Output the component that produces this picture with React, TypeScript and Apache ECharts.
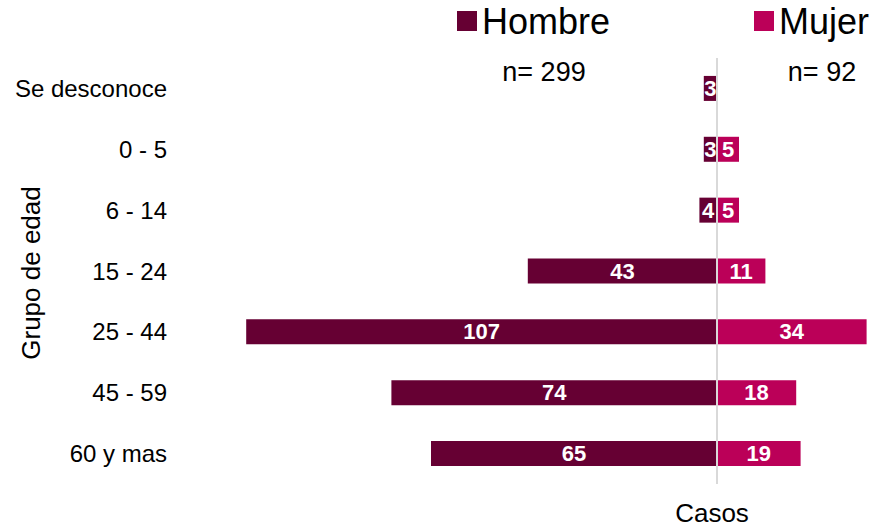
import React, { useEffect, useRef } from "react";
import * as echarts from "echarts";

const categories = ["Se desconoce", "0 - 5", "6 - 14", "15 - 24", "25 - 44", "45 - 59", "60 y mas"];
const hombre = [3, 3, 4, 43, 107, 74, 65];
const mujer: (number | null)[] = [null, 5, 5, 11, 34, 18, 19];
const totalHombre = "n= 299";
const totalMujer = "n= 92";

const FONT = "'Liberation Sans', Arial, sans-serif";
const C_H = "#660033";
const C_M = "#BB0058";

export default function App() {
  const ref = useRef<HTMLDivElement>(null);
  useEffect(() => {
    document.body.style.margin = "0";
    if (!ref.current) return;
    const chart = echarts.init(ref.current, null, { renderer: "svg" });
    const labelCfg = {
      show: true,
      position: "inside",
      color: "#fff",
      fontWeight: "bold",
      fontSize: 22,
      fontFamily: FONT,
      formatter: (p: any) => String(Math.abs(p.value)),
    };
    const legendText = { fontSize: 36, color: "#000", fontFamily: FONT };
    chart.setOption({
      animation: false,
      textStyle: { fontFamily: FONT },
      legend: [
        {
          data: ["Hombre"],
          left: 457,
          top: 3,
          padding: 0,
          itemWidth: 20,
          itemHeight: 20,
          icon: "rect",
          textStyle: legendText,
          selectedMode: false,
        },
        {
          data: ["Mujer"],
          left: 754,
          top: 3,
          padding: 0,
          itemWidth: 20,
          itemHeight: 20,
          icon: "rect",
          textStyle: legendText,
          selectedMode: false,
        },
      ],
      grid: { left: 233, right: 10, top: 58, bottom: 44, containLabel: false },
      xAxis: {
        type: "value",
        min: -110,
        max: 35,
        show: false,
      },
      yAxis: {
        type: "category",
        data: categories,
        inverse: true,
        axisLine: { show: false },
        axisTick: { show: false },
        axisLabel: { fontSize: 24, color: "#000", margin: 66, fontFamily: FONT },
      },
      series: [
        {
          name: "Hombre",
          type: "bar",
          data: hombre.map((v) => -v),
          barWidth: 25,
          barGap: "-100%",
          itemStyle: { color: C_H },
          label: labelCfg,
          markLine: {
            silent: true,
            symbol: "none",
            label: { show: false },
            lineStyle: { color: "#d9d9d9", width: 2, type: "solid" },
            data: [{ xAxis: 0 }],
          },
        },
        {
          name: "Mujer",
          type: "bar",
          data: mujer,
          barWidth: 25,
          barGap: "-100%",
          itemStyle: { color: C_M },
          label: labelCfg,
        },
      ],
      graphic: [
        {
          type: "text",
          x: 544,
          y: 72,
          style: { text: totalHombre, fill: "#000", font: `27px ${FONT}`, textAlign: "center", textVerticalAlign: "middle" },
        },
        {
          type: "text",
          x: 822,
          y: 72,
          style: { text: totalMujer, fill: "#000", font: `27px ${FONT}`, textAlign: "center", textVerticalAlign: "middle" },
        },
        {
          type: "text",
          x: 712,
          y: 513,
          style: { text: "Casos", fill: "#000", font: `26px ${FONT}`, textAlign: "center", textVerticalAlign: "middle" },
        },
        {
          type: "text",
          x: 31,
          y: 273,
          rotation: Math.PI / 2,
          style: { text: "Grupo de edad", fill: "#000", font: `26px ${FONT}`, textAlign: "center", textVerticalAlign: "middle" },
        },
      ],
    });
    return () => chart.dispose();
  }, []);
  return <div ref={ref} style={{ width: 881, height: 528 }} />;
}
